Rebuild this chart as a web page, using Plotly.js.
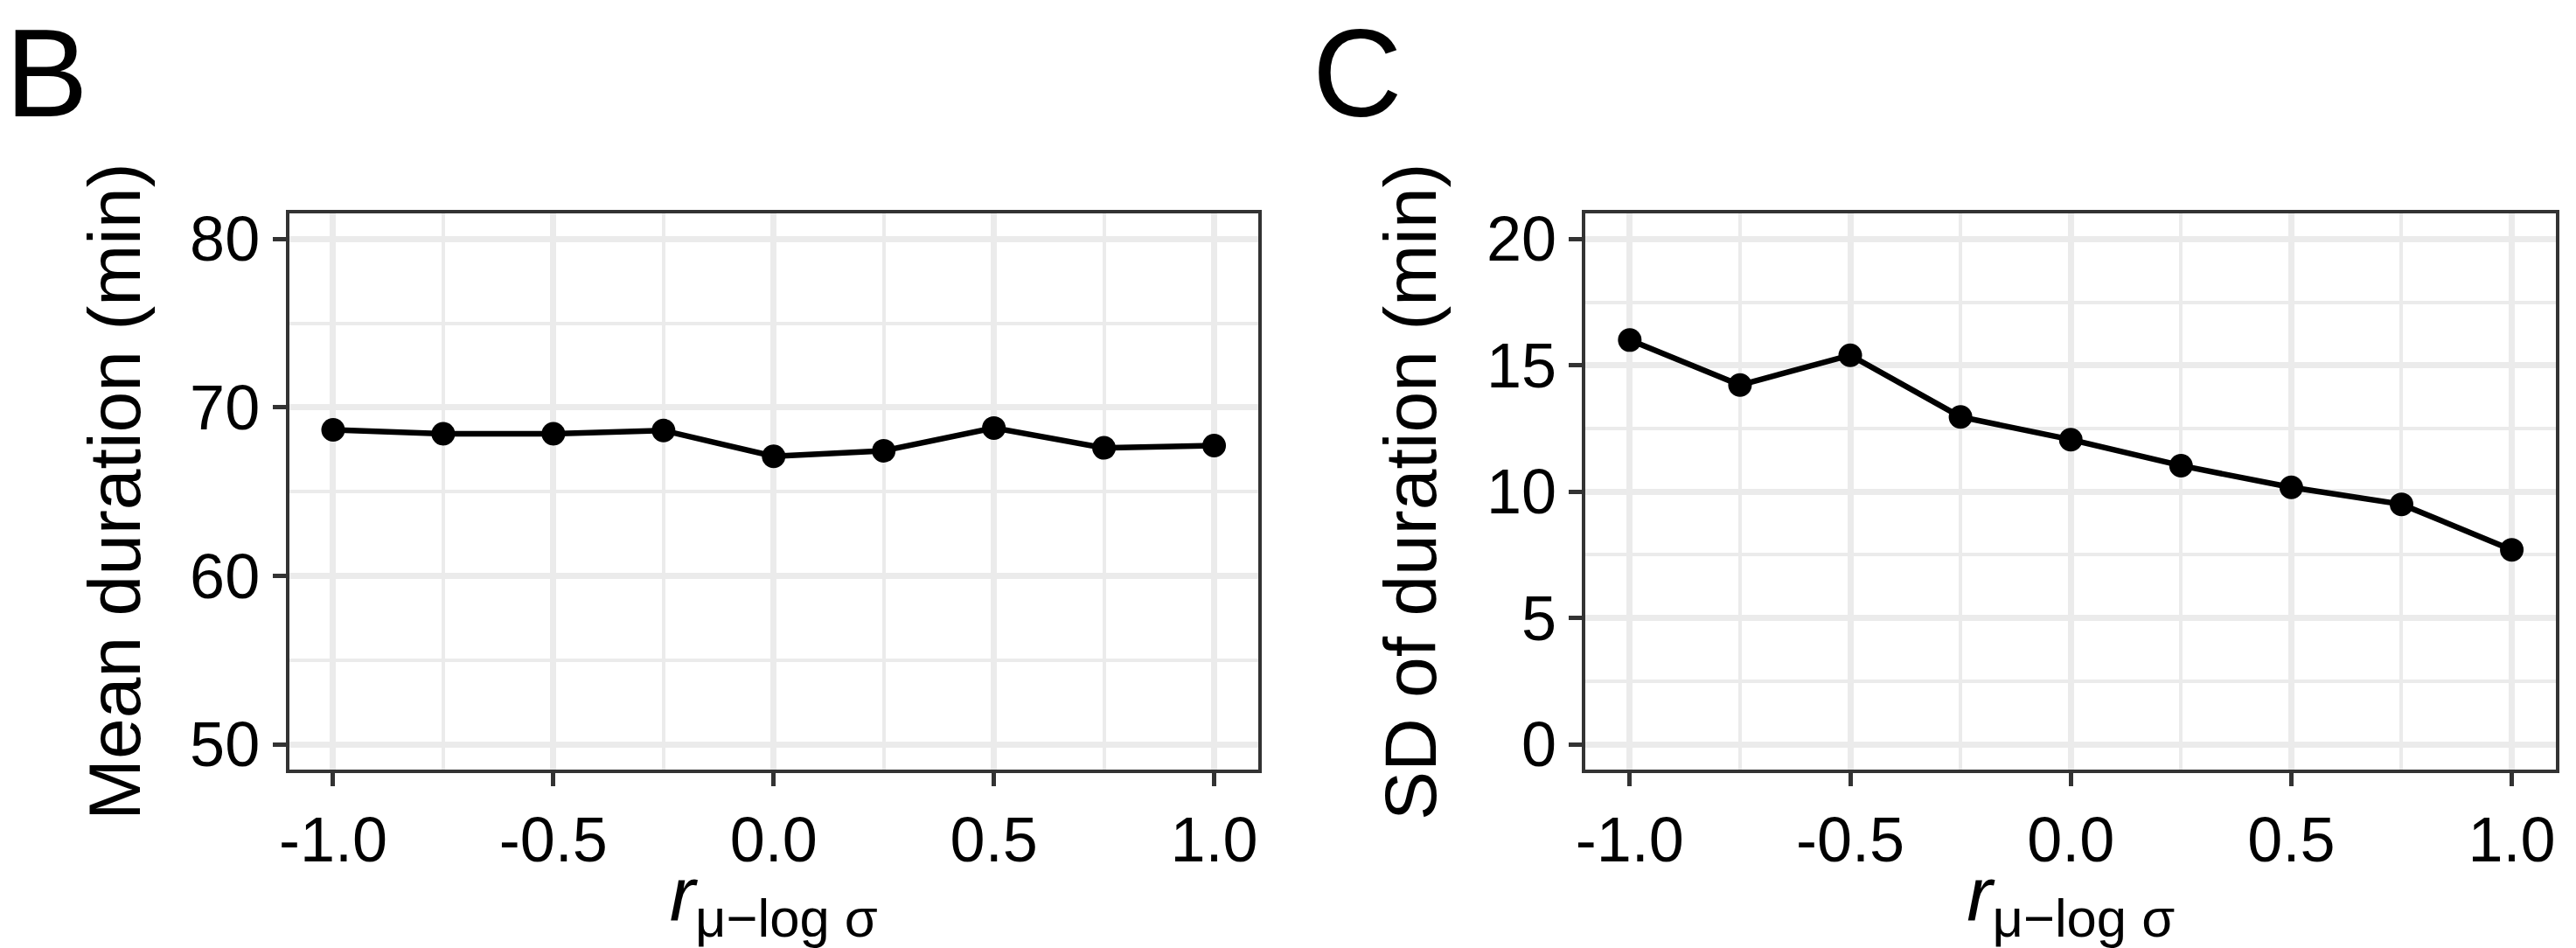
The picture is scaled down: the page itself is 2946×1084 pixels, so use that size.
<!DOCTYPE html>
<html>
<head>
<meta charset="utf-8">
<script src="https://cdn.plot.ly/plotly-3.0.1.min.js"></script>
<style>html,body{margin:0;padding:0;background:#fff;}#chart{width:2946px;height:1084px;}</style>
</head>
<body>
<div id="chart"></div>
<script>
// ---- data ----
const rValues = [-1.0, -0.75, -0.5, -0.25, 0.0, 0.25, 0.5, 0.75, 1.0];
const meanDuration = [68.67, 68.44, 68.44, 68.63, 67.10, 67.43, 68.78, 67.60, 67.74];
const sdDuration = [16.0, 14.22, 15.40, 12.96, 12.06, 11.03, 10.17, 9.50, 7.70];
const xTickVals = [-1.0, -0.5, 0.0, 0.5, 1.0];
const xTickText = ['-1.0', '-0.5', '0.0', '0.5', '1.0'];
const xMinorVals = [-0.75, -0.25, 0.25, 0.75];
const yTickValsB = [50, 60, 70, 80];
const yTickTextB = ['50', '60', '70', '80'];
const yMinorValsB = [55, 65, 75];
const yTickValsC = [0, 5, 10, 15, 20];
const yTickTextC = ['0', '5', '10', '15', '20'];
const yMinorValsC = [2.5, 7.5, 12.5, 17.5];
const panelLabels = ['B', 'C'];
const yTitles = ['Mean duration (min)', 'SD of duration (min)'];
const xTitle = '<i>r</i><sub>μ−log σ</sub>';

const FONT = 'Liberation Sans, Arial, Helvetica, sans-serif';
const GRID = '#EBEBEB';
const AXC = '#333333';

function trace(y, xa, ya) {
  return {
    x: rValues, y: y, xaxis: xa, yaxis: ya,
    type: 'scatter', mode: 'lines+markers',
    line: {color: '#000000', width: 6.5},
    marker: {color: '#000000', size: 27},
    hoverinfo: 'x+y', showlegend: false
  };
}

function xaxis(domain, anchor) {
  return {
    domain: domain, anchor: anchor, range: [-1.1, 1.1],
    tickmode: 'array', tickvals: xTickVals, ticktext: xTickText,
    showgrid: true, gridcolor: GRID, gridwidth: 6.5,
    minor: {tickmode: 'array', tickvals: xMinorVals, showgrid: true, gridcolor: GRID, gridwidth: 3.5, ticks: ''},
    zeroline: false,
    showline: true, mirror: true, linecolor: AXC, linewidth: 4,
    ticks: 'outside', ticklen: 15, tickwidth: 4.5, tickcolor: AXC,
    tickfont: {family: FONT, size: 72, color: '#000000'},
    title: {text: xTitle, font: {family: FONT, size: 88, color: '#000000'}, standoff: 20},
    fixedrange: true
  };
}

function yaxis(domain, anchor, range, tv, tt, mv, title) {
  return {
    domain: domain, anchor: anchor, range: range,
    tickmode: 'array', tickvals: tv, ticktext: tt,
    showgrid: true, gridcolor: GRID, gridwidth: 6.5,
    minor: {tickmode: 'array', tickvals: mv, showgrid: true, gridcolor: GRID, gridwidth: 3.5, ticks: ''},
    zeroline: false,
    showline: true, mirror: true, linecolor: AXC, linewidth: 4,
    ticks: 'outside', ticklen: 15, tickwidth: 4.5, tickcolor: AXC,
    tickfont: {family: FONT, size: 72, color: '#000000'},
    title: {text: title, font: {family: FONT, size: 84, color: '#000000'}, standoff: 30},
    fixedrange: true
  };
}

const yDom = [204 / 1084, 839.6 / 1084];
const data = [trace(meanDuration, 'x', 'y'), trace(sdDuration, 'x2', 'y2')];
const layout = {
  width: 2946, height: 1084,
  margin: {l: 0, r: 0, t: 0, b: 0},
  paper_bgcolor: '#ffffff', plot_bgcolor: '#ffffff',
  font: {family: FONT, color: '#000000'},
  xaxis: xaxis([330.6 / 2946, 1438.9 / 2946], 'y'),
  yaxis: yaxis(yDom, 'x', [48.5, 81.5], yTickValsB, yTickTextB, yMinorValsB, yTitles[0]),
  xaxis2: xaxis([1813.4 / 2946, 2923 / 2946], 'y2'),
  yaxis2: yaxis(yDom, 'x2', [-1, 21], yTickValsC, yTickTextC, yMinorValsC, yTitles[1]),
  annotations: [
    {text: panelLabels[0], x: 4 / 2946, y: 1, yshift: -2, xref: 'paper', yref: 'paper', xanchor: 'left', yanchor: 'top', showarrow: false, font: {family: FONT, size: 142, color: '#000000'}},
    {text: panelLabels[1], x: 1499 / 2946, y: 1, yshift: -2, xref: 'paper', yref: 'paper', xanchor: 'left', yanchor: 'top', showarrow: false, font: {family: FONT, size: 142, color: '#000000'}}
  ]
};
Plotly.newPlot('chart', data, layout, {displayModeBar: false});
</script>
</body>
</html>
